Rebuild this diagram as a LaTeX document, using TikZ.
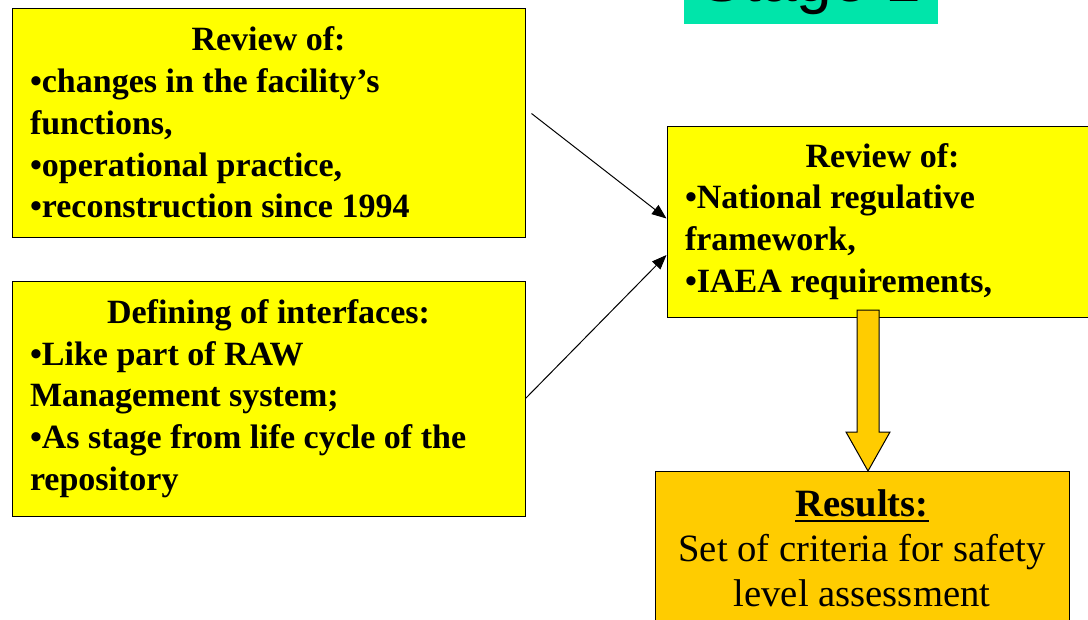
\documentclass[tikz,border=0pt]{standalone}
\usepackage{fontspec}
\setmainfont{Liberation Serif}
\newfontfamily\stagefont{Liberation Sans}
\usetikzlibrary{positioning,arrows.meta}
\definecolor{boxyellow}{RGB}{255,255,0}
\definecolor{stagegreen}{RGB}{0,229,170}
\definecolor{resultgold}{RGB}{255,204,0}
\newcommand{\thickul}[1]{\setbox0\hbox{#1}\rlap{\rule[-4.5pt]{\wd0}{1.5pt}}\box0}

\begin{document}
\begin{tikzpicture}[
x=0.75pt, y=-0.75pt,
node distance=32.25pt,
box/.style={draw=black, line width=0.75pt, fill=boxyellow, inner xsep=13.5pt, inner ysep=0pt, align=flush left, font=\fontsize{25.5}{31.3}\selectfont\bfseries},
arrow/.style={-{Triangle[length=11pt,width=8.5pt]}, line width=0.75pt, black},
fatarrow/.style={draw=black, line width=0.75pt, fill=resultgold}
]
\useasboundingbox (0,0) rectangle (1088,619);
\clip (0,0) rectangle (1088,619);

% stage label, cut by the top edge
\node[fill=stagegreen, anchor=base, minimum width=190.5pt, text depth=0pt, inner ysep=16.9pt, font=\stagefont\fontsize{48}{58}\selectfont] (stage) at (811,1.5) {Stage 1};

% input boxes
\node[box, text width=357.75pt, minimum height=171.75pt] (review) at (268.5,122.5) {\makebox[357.75pt]{Review of:}\\
•changes in the facility’s\\
functions,\\
•operational practice,\\
•reconstruction since 1994};
\node[box, text width=357.75pt, minimum height=176.25pt, below=of review] (define) {\makebox[357.75pt]{Defining of interfaces:}\\
•Like part of RAW\\
Management system;\\
•As stage from life cycle of the\\
repository};
\node[box, text width=296.25pt, minimum height=143.25pt] (regul) at (882.5,221.5) {\makebox[296.25pt]{Review of:}\\
•National regulative\\
framework,\\
•IAEA requirements,};

% result box
\node[draw=black, line width=0.75pt, fill=resultgold, anchor=north, text width=283.5pt, inner xsep=13.5pt, inner ysep=13.5pt, align=flush center, font=\fontsize{29}{33.75}\selectfont] (result) at (862,471) {\textbf{\thickul{Results:}}\\
Set of criteria for safety\\
level assessment};

% connectors
\draw[arrow] ([shift={(6,-9)}]review.east) -- ([shift={(0,-3)}]regul.west);
\draw[arrow] (define.east) -- ([shift={(0,33.5)}]regul.west);
\coordinate (tip) at ([xshift=4.5pt]result.north);
\draw[fatarrow] (tip) -- ++(-22,-39) -- ++(11,0) -- ++(0,-122) -- ++(22,0) -- ++(0,122) -- ++(11,0) -- cycle;
\end{tikzpicture}
\end{document}
